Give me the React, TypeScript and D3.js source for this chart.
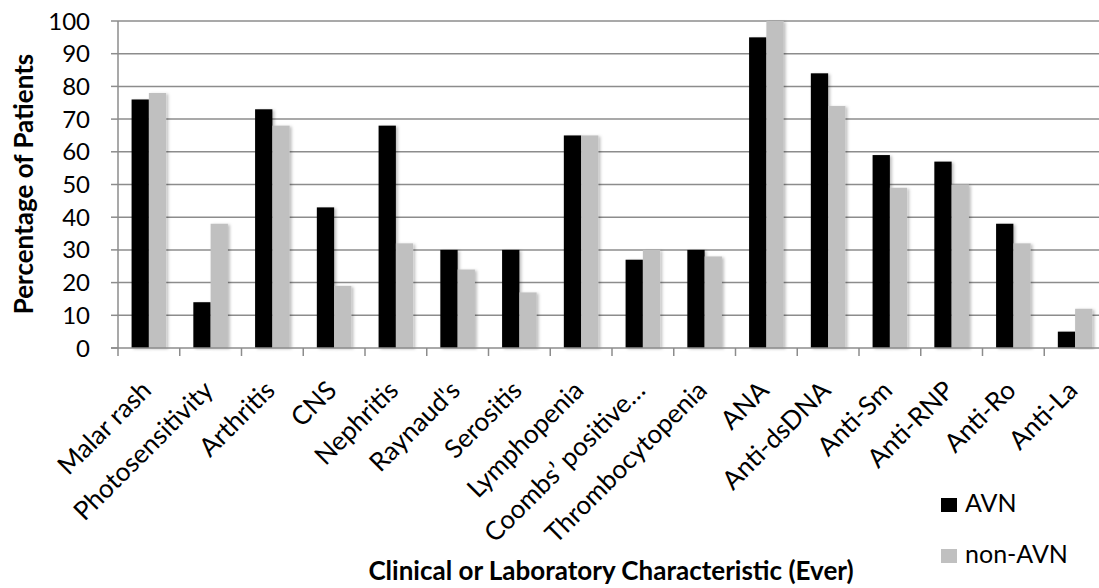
import React, { useEffect, useRef } from 'react';
import * as d3 from 'd3';

const categories = [
  'Malar rash', 'Photosensitivity', 'Arthritis', 'CNS', 'Nephritis', "Raynaud's",
  'Serositis', 'Lymphopenia', 'Coombs’ positive…', 'Thrombocytopenia', 'ANA',
  'Anti-dsDNA', 'Anti-Sm', 'Anti-RNP', 'Anti-Ro', 'Anti-La',
];
const avn = [76, 14, 73, 43, 68, 30, 30, 65, 27, 30, 95, 84, 59, 57, 38, 5];
const nonAvn = [78, 38, 68, 19, 32, 24, 17, 65, 30, 28, 100, 74, 49, 50, 32, 12];
const seriesNames = ['AVN', 'non-AVN'];
const seriesColors = ['#000000', '#c0c0c0'];
const yTicks = [0, 10, 20, 30, 40, 50, 60, 70, 80, 90, 100];

const W = 1099;
const H = 588;
const FONT = 'Lato, "Open Sans", sans-serif';

const App: React.FC = () => {
  const svgRef = useRef<SVGSVGElement>(null);

  useEffect(() => {
    if (!svgRef.current) return;
    const svg = d3.select(svgRef.current);
    svg.selectAll('*').remove();

    const left = 118, right = 1106, top = 21, bottom = 348;

    const x = d3.scaleBand<string>().domain(categories).range([left, right])
      .paddingInner(0.44).paddingOuter(0.22);
    const xs = d3.scaleBand<string>().domain(seriesNames).range([0, x.bandwidth()]);
    const y = d3.scaleLinear().domain([0, 100]).range([bottom, top]);
    const step = x.step();

    const defs = svg.append('defs');
    const f = defs.append('filter').attr('id', 'shadow')
      .attr('x', '-20%').attr('y', '-5%').attr('width', '160%').attr('height', '110%');
    f.append('feDropShadow').attr('dx', 2).attr('dy', 1).attr('stdDeviation', 1.5)
      .attr('flood-color', '#000').attr('flood-opacity', 0.25);

    // gridlines
    svg.append('g').selectAll('line').data(yTicks.filter(t => t > 0)).enter().append('line')
      .attr('x1', left).attr('x2', right)
      .attr('y1', d => y(d)).attr('y2', d => y(d))
      .attr('stroke', '#8c8c8c').attr('stroke-width', 1.5);

    // bars
    const data = categories.map((c, i) => ({ c, vals: [avn[i], nonAvn[i]] }));
    const groups = svg.append('g').selectAll('g').data(data).enter().append('g')
      .attr('transform', d => `translate(${x(d.c)},0)`);
    groups.selectAll('rect')
      .data(d => d.vals.map((v, j) => ({ v, j })))
      .enter().append('rect')
      .attr('x', d => xs(seriesNames[d.j])!)
      .attr('width', xs.bandwidth())
      .attr('y', d => y(d.v))
      .attr('height', d => y(0) - y(d.v))
      .attr('fill', d => seriesColors[d.j])
      .attr('filter', 'url(#shadow)');

    // y axis
    svg.append('line').attr('x1', left).attr('x2', left).attr('y1', top).attr('y2', bottom)
      .attr('stroke', '#8c8c8c').attr('stroke-width', 1.5);
    svg.append('g').selectAll('line').data(yTicks).enter().append('line')
      .attr('x1', left - 7).attr('x2', left).attr('y1', d => y(d)).attr('y2', d => y(d))
      .attr('stroke', '#8c8c8c').attr('stroke-width', 1.5);
    svg.append('g').selectAll('text').data(yTicks).enter().append('text')
      .attr('x', 90).attr('y', d => y(d) + 8.5)
      .attr('text-anchor', 'end').style('font-family', FONT).style('font-size', '24px')
      .attr('fill', '#000').text(d => d);

    // x axis
    svg.append('line').attr('x1', left - 7).attr('x2', right).attr('y1', bottom).attr('y2', bottom)
      .attr('stroke', '#8c8c8c').attr('stroke-width', 1.5);
    svg.append('g').selectAll('line').data(d3.range(categories.length + 1)).enter().append('line')
      .attr('x1', i => left + i * step).attr('x2', i => left + i * step)
      .attr('y1', bottom).attr('y2', bottom + 8)
      .attr('stroke', '#8c8c8c').attr('stroke-width', 1.5);

    svg.append('g').selectAll('text').data(categories).enter().append('text')
      .attr('transform', d => `translate(${x(d)! + x.bandwidth() / 2 + 4},${bottom + 44}) rotate(-45)`)
      .attr('text-anchor', 'end').style('font-family', FONT).style('font-size', '26px')
      .attr('fill', '#000').text(d => d);

    // axis titles
    svg.append('text')
      .attr('transform', `translate(33,184) rotate(-90)`)
      .attr('text-anchor', 'middle').style('font-family', FONT).style('font-size', '26px')
      .style('font-weight', 'bold').text('Percentage of Patients');
    svg.append('text')
      .attr('x', 611).attr('y', 580)
      .attr('text-anchor', 'middle').style('font-family', FONT).style('font-size', '26px')
      .style('font-weight', 'bold').text('Clinical or Laboratory Characteristic (Ever)');

    // legend
    const lg = svg.append('g').attr('transform', 'translate(941,0)');
    seriesNames.forEach((s, i) => {
      const ly = 512 + i * 51;
      lg.append('rect').attr('x', 0).attr('y', ly - 14).attr('width', 16).attr('height', 14)
        .attr('fill', seriesColors[i]);
      lg.append('text').attr('x', 24).attr('y', ly)
        .style('font-family', FONT).style('font-size', '25px').text(s);
    });
  }, []);

  return (
    <svg ref={svgRef} width={W} height={H}
      style={{ position: 'absolute', left: 0, top: 0, background: '#fff' }} />
  );
};

export default App;
